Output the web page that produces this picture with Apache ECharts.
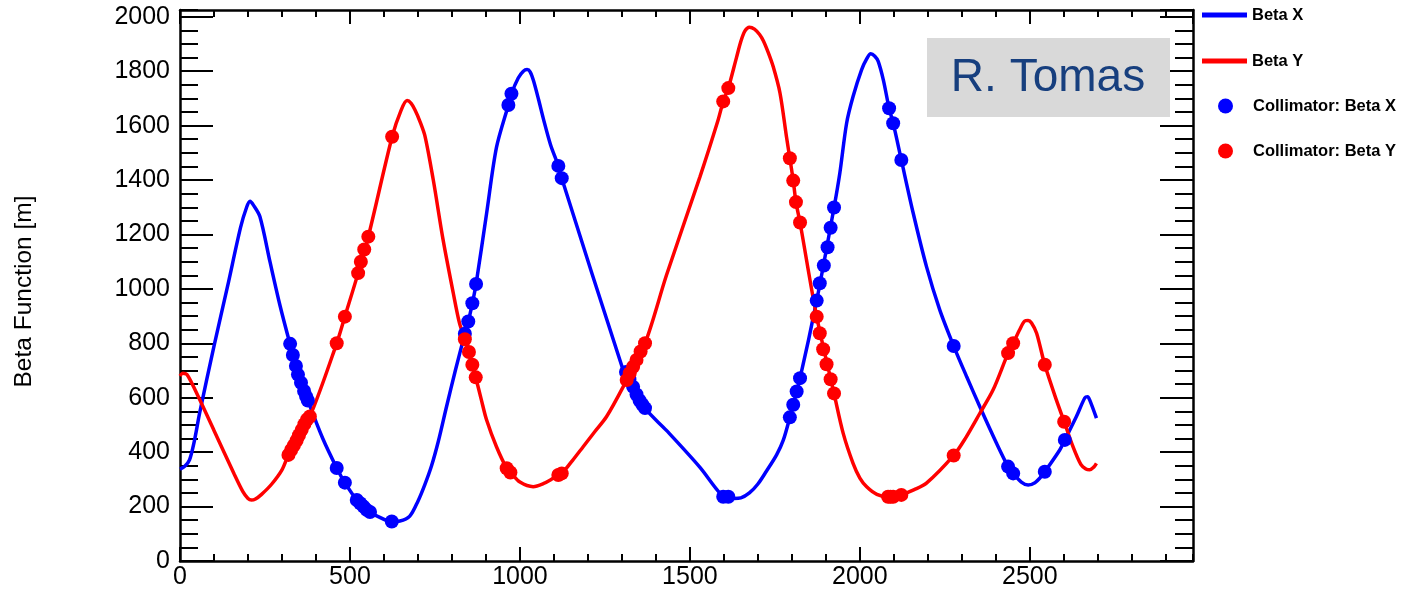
<!DOCTYPE html>
<html>
<head>
<meta charset="utf-8">
<script src="https://cdn.jsdelivr.net/npm/echarts/dist/echarts.min.js"></script>
<style>
html,body{margin:0;padding:0;background:#fff;}
#chart{width:1402px;height:593px;}
</style>
</head>
<body>
<div id="chart"></div>
<script>
// ---- Data (s [m], beta [m]) ----
const X_MIN = 0, X_MAX = 2980;
const Y_MIN = 0, Y_MAX = 2025;
const xTickStep = 500, xMinorStep = 100;
const yTickStep = 200, yMinorStep = 50;

const betaX = [
  [0,338],[14,348],[28,372],[42,440],[58,545],[100,790],[140,1010],[178,1225],[196,1300],[206,1322],
  [216,1308],[235,1266],[265,1098],[294,940],[324,796],[350,680],[376,590],[420,450],[461,342],
  [485,288],[520,224],[549,188],[580,165],[623,145],[647,147],[676,165],[700,220],[720,280],[740,350],
  [760,440],[784,567],[810,700],[838,835],[848,880],[860,947],[871,1018],[902,1278],[931,1520],
  [966,1676],[975,1717],[995,1775],[1010,1800],[1021,1806],[1030,1798],[1040,1765],[1055,1695],
  [1069,1625],[1090,1530],[1113,1452],[1123,1407],[1304,700],[1312,690],[1368,562],[1431,480],
  [1529,345],[1588,250],[1610,236],[1630,230],[1650,232],[1675,250],[1700,283],[1725,330],[1755,390],
  [1775,445],[1794,528],[1824,672],[1873,957],[1924,1299],[1941,1425],[1961,1609],[1980,1707],
  [2005,1805],[2020,1845],[2032,1864],[2044,1855],[2054,1836],[2069,1768],[2086,1664],[2098,1609],
  [2122,1474],[2157,1278],[2196,1082],[2235,923],[2276,790],[2314,678],[2353,567],[2402,433],
  [2436,347],[2451,322],[2475,290],[2495,279],[2515,288],[2529,304],[2544,328],[2588,408],[2603,445],
  [2637,531],[2662,600],[2670,604],[2676,592],[2696,525]
];

const betaY = [
  [0,680],[8,690],[20,686],[40,640],[100,480],[160,318],[185,255],[200,230],[210,224],[222,228],
  [240,245],[270,283],[300,335],[319,390],[382,531],[461,800],[485,898],[524,1058],[554,1192],
  [624,1559],[650,1655],[668,1692],[680,1682],[691,1658],[706,1615],[721,1560],[745,1401],[774,1180],
  [804,984],[822,875],[838,815],[850,768],[860,721],[870,675],[886,595],[902,518],[931,420],[961,341],
  [975,322],[1000,290],[1039,273],[1070,285],[1098,304],[1123,322],[1155,370],[1186,420],[1220,475],
  [1255,531],[1304,641],[1368,800],[1431,1050],[1529,1410],[1583,1621],[1598,1689],[1613,1738],
  [1637,1850],[1650,1910],[1662,1948],[1675,1962],[1690,1955],[1705,1935],[1716,1912],[1730,1870],
  [1745,1817],[1765,1720],[1784,1560],[1794,1480],[1804,1398],[1812,1319],[1824,1244],[1873,898],
  [1924,616],[1951,469],[1980,359],[2000,305],[2020,273],[2050,245],[2083,236],[2098,236],[2122,243],
  [2160,262],[2196,286],[2276,388],[2310,450],[2353,543],[2392,629],[2436,764],[2451,800],[2470,850],
  [2485,882],[2495,884],[2505,875],[2520,837],[2544,721],[2578,592],[2601,512],[2627,420],[2650,355],
  [2665,338],[2676,335],[2688,345],[2696,359]
];

const collX = [
  [324,798],[332,757],[341,717],[347,685],[356,655],[365,625],[371,605],[376,590],
  [461,342],[485,288],[520,224],[530,212],[540,200],[549,188],[559,180],[623,145],
  [838,835],[848,880],[860,947],[871,1018],[966,1676],[975,1717],
  [1113,1452],[1123,1407],
  [1312,695],[1322,668],[1333,640],[1343,612],[1352,590],[1360,575],[1368,562],
  [1598,236],[1613,236],
  [1794,528],[1804,574],[1814,623],[1824,672],
  [1873,957],[1882,1021],[1894,1086],[1905,1153],[1914,1225],[1924,1299],
  [2086,1664],[2098,1609],[2122,1474],
  [2276,790],
  [2436,347],[2451,322],[2544,328],[2603,445]
];

const collY = [
  [319,390],[327,408],[335,425],[343,443],[350,462],[358,482],[366,503],[374,520],[382,531],
  [461,800],[485,898],[524,1058],[532,1100],[542,1145],[554,1192],[624,1559],
  [838,815],[850,768],[860,721],[870,675],
  [961,341],[972,325],
  [1113,316],[1123,322],
  [1314,665],[1323,690],[1333,714],[1343,739],[1355,770],[1368,800],
  [1598,1689],[1613,1738],
  [1794,1480],[1804,1398],[1812,1319],[1824,1244],
  [1873,898],[1882,837],[1892,778],[1902,723],[1914,668],[1924,616],
  [2083,236],[2090,236],[2098,236],[2122,243],
  [2276,388],[2436,764],[2451,800],[2544,721],[2601,512]
];

const seriesNames = ['Beta X', 'Beta Y', 'Collimator: Beta X', 'Collimator: Beta Y'];
const yTitle = 'Beta Function [m]';
const stamp = 'R. Tomas';

// ---- Chart ----
const FONT = '"Liberation Sans", Arial, Helvetica, sans-serif';
const BLUE = '#0000ff', RED = '#ff0000';
const plain = v => String(v);

function xAxisDef(position, step, tickLen, withLabels, withLine) {
  return {
    type: 'value', position, min: X_MIN, max: X_MAX, interval: step,
    axisLine: { show: withLine, onZero: false, lineStyle: { color: '#000', width: 2.5 } },
    axisTick: { show: true, inside: true, length: tickLen, lineStyle: { color: '#000', width: 2 } },
    axisLabel: { show: withLabels, fontSize: 25, color: '#000', margin: 4, fontFamily: FONT,
                 showMaxLabel: false, formatter: plain },
    splitLine: { show: false }
  };
}
function yAxisDef(position, step, tickLen, withLabels, withLine, name) {
  const a = {
    type: 'value', position, min: Y_MIN, max: Y_MAX, interval: step,
    axisLine: { show: withLine, onZero: false, lineStyle: { color: '#000', width: 2.5 } },
    axisTick: { show: true, inside: true, length: tickLen, lineStyle: { color: '#000', width: 2 } },
    axisLabel: { show: withLabels, fontSize: 25, color: '#000', margin: 10, fontFamily: FONT,
                 showMaxLabel: false, formatter: plain },
    splitLine: { show: false }
  };
  if (name) {
    a.name = name;
    a.nameLocation = 'middle';
    a.nameGap = 143;
    a.nameTextStyle = { fontSize: 24.5, color: '#000', fontFamily: FONT, padding: [0, 12, 0, 0] };
  }
  return a;
}

function legendDef(name, centerY, icon, h, left, gap) {
  return {
    data: [name], left: left, top: centerY - 9, padding: 0, icon: icon,
    itemWidth: 45, itemHeight: h, itemTextGap: gap, selectedMode: false,
    textStyle: { fontSize: 16.5, fontWeight: 'bold', color: '#000', fontFamily: FONT, lineHeight: 18 }
  };
}

const chart = echarts.init(document.getElementById('chart'), null, { renderer: 'canvas' });
chart.setOption({
  backgroundColor: '#fff',
  animation: false,
  grid: { left: 180, right: 209, top: 10, bottom: 32, containLabel: false },
  xAxis: [
    xAxisDef('bottom', xTickStep, 14, true, true),
    xAxisDef('bottom', xMinorStep, 7, false, false),
    xAxisDef('top', xTickStep, 14, false, true),
    xAxisDef('top', xMinorStep, 7, false, false)
  ],
  yAxis: [
    yAxisDef('left', yTickStep, 33, true, true, yTitle),
    yAxisDef('left', yMinorStep, 18, false, false),
    yAxisDef('right', yTickStep, 33, false, true),
    yAxisDef('right', yMinorStep, 18, false, false)
  ],
  legend: [
    legendDef(seriesNames[0], 15, 'rect', 5, 1202, 19),
    legendDef(seriesNames[1], 61, 'rect', 5, 1202, 19),
    legendDef(seriesNames[2], 106, 'circle', 15, 1218, 18),
    legendDef(seriesNames[3], 151, 'circle', 15, 1218, 18)
  ],
  graphic: [
    { type: 'rect', left: 927, top: 38, shape: { width: 243, height: 79 },
      style: { fill: '#d9d9d9' }, z: 1 },
    { type: 'text', x: 1048, y: 78, z: 2,
      style: { text: stamp, fill: '#173f7e', font: '46px ' + FONT, align: 'center', verticalAlign: 'middle' } }
  ],
  series: [
    { name: seriesNames[0], type: 'line', data: betaX, symbol: 'none', smooth: 0.3,
      lineStyle: { color: BLUE, width: 3.5 }, itemStyle: { color: BLUE }, z: 3 },
    { name: seriesNames[1], type: 'line', data: betaY, symbol: 'none', smooth: 0.3,
      lineStyle: { color: RED, width: 3.5 }, itemStyle: { color: RED }, z: 3 },
    { name: seriesNames[2], type: 'scatter', data: collX, symbol: 'circle', symbolSize: 14,
      itemStyle: { color: BLUE, opacity: 1 }, z: 4 },
    { name: seriesNames[3], type: 'scatter', data: collY, symbol: 'circle', symbolSize: 14,
      itemStyle: { color: RED, opacity: 1 }, z: 5 }
  ]
});
</script>
</body>
</html>
